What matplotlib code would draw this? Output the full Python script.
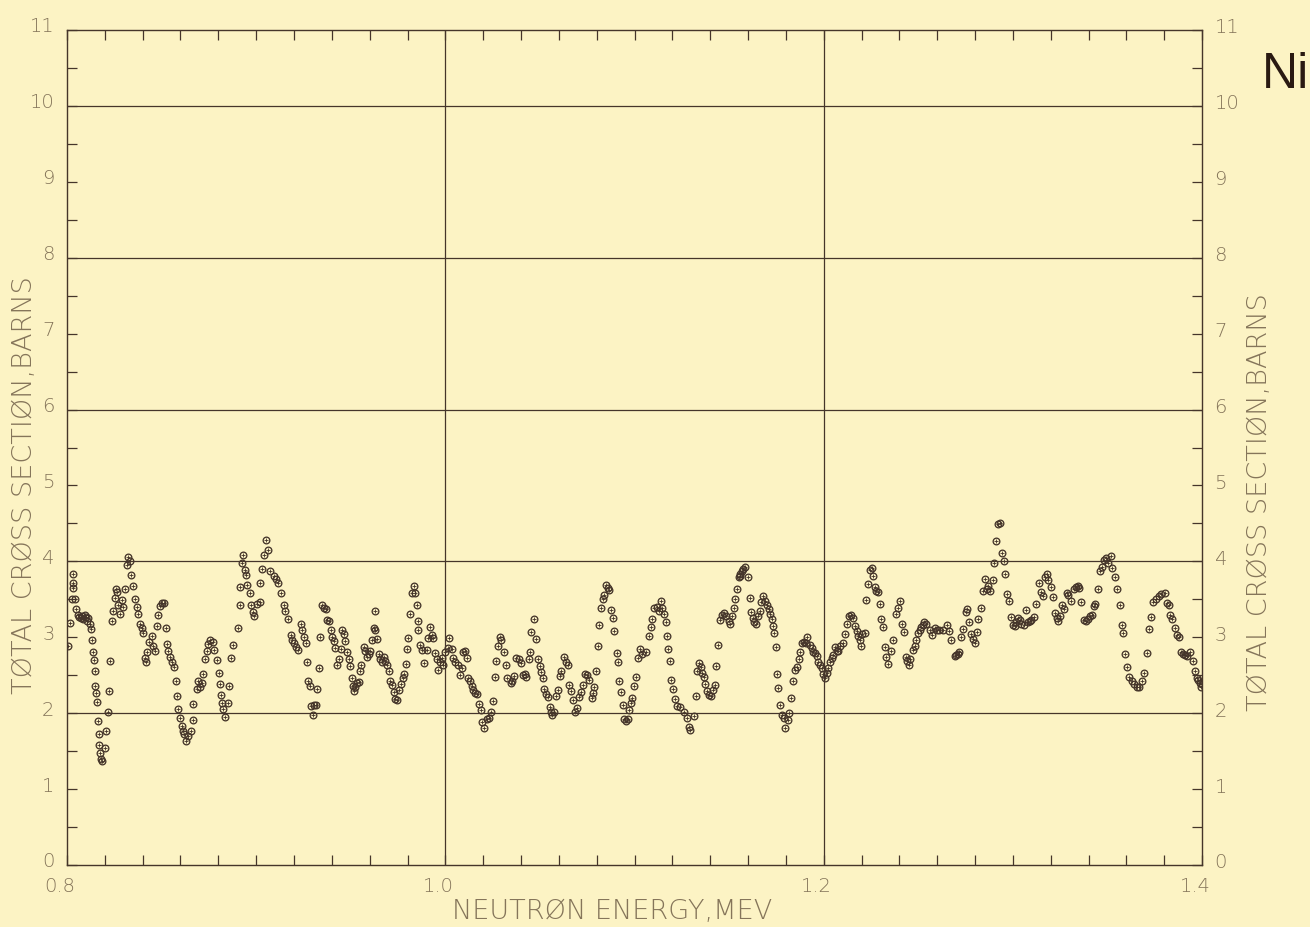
import numpy as np
import matplotlib
matplotlib.use("Agg")
import matplotlib.pyplot as plt
from matplotlib.transforms import ScaledTranslation

# Ni total neutron cross section, 0.80 - 1.40 MeV (energy in MeV, sigma in barns)
energy_a = [0.8007, 0.8016, 0.8025, 0.8030, 0.8032, 0.8034, 0.8042, 0.8048, 0.8060, 0.8066,
            0.8072, 0.8079, 0.8086, 0.8093, 0.8101, 0.8107, 0.8113, 0.8122, 0.8125, 0.8131,
            0.8136, 0.8143, 0.8146, 0.8150, 0.8153, 0.8157, 0.8166, 0.8168, 0.8171, 0.8175,
            0.8180, 0.8185, 0.8201, 0.8206, 0.8219, 0.8224, 0.8228, 0.8240, 0.8245, 0.8254,
            0.8259, 0.8264, 0.8272, 0.8280, 0.8289, 0.8298, 0.8307, 0.8316, 0.8325, 0.8333,
            0.8337, 0.8347, 0.8360, 0.8369, 0.8377, 0.8386, 0.8395, 0.8404, 0.8413, 0.8418,
            0.8425, 0.8436, 0.8448, 0.8457, 0.8466, 0.8474, 0.8483, 0.8492, 0.8501, 0.8513,
            0.8524, 0.8527, 0.8536, 0.8545, 0.8554, 0.8563, 0.8575, 0.8584, 0.8589, 0.8598,
            0.8607, 0.8613, 0.8619, 0.8630, 0.8642, 0.8654, 0.8665, 0.8668, 0.8686, 0.8695,
            0.8704, 0.8713, 0.8721, 0.8730, 0.8739, 0.8748, 0.8757, 0.8771, 0.8778, 0.8792,
            0.8801, 0.8810, 0.8813, 0.8818, 0.8827, 0.8836, 0.8850, 0.8859, 0.8866, 0.8880,
            0.8903, 0.8912, 0.8915, 0.8924, 0.8933, 0.8942, 0.8947, 0.8954, 0.8965, 0.8972,
            0.8982, 0.8991, 0.9004, 0.9018, 0.9021, 0.9030, 0.9042, 0.9053, 0.9060, 0.9074,
            0.9092, 0.9106, 0.9118, 0.9131, 0.9145, 0.9155, 0.9166]
sigma_a = [2.89, 3.19, 3.50, 3.83, 3.72, 3.65, 3.50, 3.37, 3.30, 3.27,
           3.25, 3.28, 3.24, 3.30, 3.27, 3.22, 3.26, 3.18, 3.11, 2.96,
           2.81, 2.70, 2.55, 2.36, 2.27, 2.15, 1.90, 1.72, 1.58, 1.48,
           1.39, 1.37, 1.54, 1.76, 2.02, 2.29, 2.69, 3.22, 3.35, 3.52,
           3.63, 3.60, 3.42, 3.31, 3.49, 3.40, 3.63, 3.95, 4.06, 4.01,
           3.82, 3.68, 3.51, 3.40, 3.31, 3.18, 3.12, 3.06, 2.73, 2.68,
           2.81, 2.94, 3.02, 2.89, 2.82, 3.15, 3.29, 3.41, 3.45, 3.45,
           3.12, 2.91, 2.82, 2.74, 2.67, 2.61, 2.42, 2.23, 2.06, 1.94,
           1.83, 1.76, 1.73, 1.64, 1.70, 1.77, 1.91, 2.12, 2.32, 2.42,
           2.35, 2.40, 2.52, 2.72, 2.82, 2.91, 2.97, 2.94, 2.83, 2.70,
           2.53, 2.38, 2.24, 2.14, 2.06, 1.95, 2.14, 2.36, 2.73, 2.90,
           3.12, 3.43, 3.66, 3.98, 4.09, 3.89, 3.82, 3.69, 3.58, 3.42,
           3.33, 3.28, 3.44, 3.46, 3.71, 3.90, 4.09, 4.28, 4.15, 3.87,
           3.81, 3.77, 3.71, 3.58, 3.43, 3.34, 3.24]

energy_b = [0.9182, 0.9191, 0.9200, 0.9209, 0.9223, 0.9235, 0.9244, 0.9253, 0.9265, 0.9270,
            0.9275, 0.9282, 0.9288, 0.9302, 0.9305, 0.9318, 0.9323, 0.9332, 0.9340, 0.9349,
            0.9358, 0.9367, 0.9375, 0.9384, 0.9393, 0.9402, 0.9411, 0.9419, 0.9428, 0.9437,
            0.9446, 0.9454, 0.9463, 0.9468, 0.9481, 0.9489, 0.9495, 0.9504, 0.9511, 0.9516,
            0.9525, 0.9533, 0.9542, 0.9547, 0.9556, 0.9568, 0.9577, 0.9586, 0.9595, 0.9604,
            0.9612, 0.9621, 0.9626, 0.9630, 0.9639, 0.9647, 0.9656, 0.9665, 0.9674, 0.9682,
            0.9691, 0.9700, 0.9709, 0.9718, 0.9726, 0.9735, 0.9744, 0.9753, 0.9767, 0.9774,
            0.9784, 0.9791, 0.9796, 0.9805, 0.9814, 0.9823, 0.9832, 0.9840, 0.9849, 0.9854,
            0.9858, 0.9867, 0.9875, 0.9889, 0.9902, 0.9911, 0.9919, 0.9928, 0.9937, 0.9946,
            0.9954, 0.9963, 0.9972, 0.9981, 0.9989, 0.9998, 1.0016, 1.0021, 1.0033, 1.0042,
            1.0051, 1.0068, 1.0077, 1.0086, 1.0095, 1.0104, 1.0112, 1.0121, 1.0130, 1.0139,
            1.0147, 1.0156, 1.0170, 1.0179, 1.0188, 1.0196, 1.0205, 1.0218, 1.0230, 1.0240,
            1.0253, 1.0261, 1.0270, 1.0279, 1.0288, 1.0296, 1.0311, 1.0323, 1.0328]
sigma_b = [3.03, 2.96, 2.92, 2.87, 2.83, 3.18, 3.09, 3.01, 2.93, 2.67,
           2.42, 2.36, 2.10, 1.98, 2.11, 2.11, 2.32, 2.59, 3.01, 3.43,
           3.38, 3.37, 3.23, 3.21, 3.10, 3.01, 2.95, 2.86, 2.64, 2.71,
           2.84, 3.10, 3.04, 2.95, 2.80, 2.72, 2.62, 2.47, 2.36, 2.29,
           2.34, 2.40, 2.41, 2.56, 2.63, 2.87, 2.82, 2.74, 2.78, 2.82,
           2.96, 3.12, 3.34, 3.09, 2.98, 2.78, 2.71, 2.67, 2.74, 2.69,
           2.63, 2.56, 2.43, 2.37, 2.28, 2.19, 2.17, 2.30, 2.38, 2.46,
           2.52, 2.65, 2.85, 2.99, 3.31, 3.58, 3.67, 3.58, 3.42, 3.21,
           3.10, 2.90, 2.83, 2.66, 2.83, 2.99, 3.14, 3.03, 2.99, 2.79,
           2.72, 2.57, 2.68, 2.73, 2.64, 2.81, 2.86, 2.99, 2.84, 2.73,
           2.68, 2.64, 2.50, 2.60, 2.80, 2.82, 2.73, 2.47, 2.42, 2.36,
           2.31, 2.27, 2.25, 2.12, 2.04, 1.88, 1.80, 1.92, 1.94, 2.01,
           2.16, 2.48, 2.69, 2.88, 3.00, 2.96, 2.80, 2.63, 2.47]

energy_c = [1.0346, 1.0352, 1.0363, 1.0375, 1.0388, 1.0398, 1.0413, 1.0419, 1.0425, 1.0440,
            1.0447, 1.0454, 1.0468, 1.0481, 1.0489, 1.0498, 1.0507, 1.0516, 1.0521, 1.0533,
            1.0542, 1.0551, 1.0560, 1.0565, 1.0577, 1.0586, 1.0595, 1.0604, 1.0612, 1.0626,
            1.0639, 1.0647, 1.0656, 1.0665, 1.0674, 1.0686, 1.0697, 1.0709, 1.0718, 1.0726,
            1.0739, 1.0749, 1.0761, 1.0774, 1.0779, 1.0788, 1.0796, 1.0805, 1.0814, 1.0823,
            1.0832, 1.0840, 1.0849, 1.0858, 1.0867, 1.0875, 1.0884, 1.0893, 1.0905, 1.0911,
            1.0919, 1.0928, 1.0937, 1.0946, 1.0954, 1.0967, 1.0972, 1.0981, 1.0989, 1.0998,
            1.1007, 1.1016, 1.1030, 1.1042, 1.1060, 1.1077, 1.1086, 1.1095, 1.1104, 1.1118,
            1.1130, 1.1139, 1.1147, 1.1156, 1.1165, 1.1174, 1.1177, 1.1188, 1.1195, 1.1205,
            1.1212, 1.1226, 1.1240, 1.1261, 1.1275, 1.1288, 1.1293, 1.1314, 1.1323, 1.1332,
            1.1340, 1.1349, 1.1358, 1.1367, 1.1375, 1.1384, 1.1393, 1.1402, 1.1416, 1.1423,
            1.1433, 1.1440, 1.1451, 1.1463, 1.1475, 1.1486]
sigma_c = [2.40, 2.42, 2.49, 2.73, 2.71, 2.66, 2.50, 2.51, 2.48, 2.71,
           2.80, 3.07, 3.24, 2.98, 2.71, 2.62, 2.54, 2.47, 2.32, 2.25,
           2.21, 2.08, 2.02, 1.97, 2.02, 2.23, 2.30, 2.49, 2.55, 2.74,
           2.68, 2.63, 2.37, 2.29, 2.17, 2.02, 2.07, 2.21, 2.28, 2.37,
           2.52, 2.50, 2.44, 2.20, 2.26, 2.35, 2.56, 2.89, 3.16, 3.38,
           3.51, 3.56, 3.69, 3.65, 3.62, 3.36, 3.25, 3.08, 2.79, 2.67,
           2.43, 2.28, 2.11, 1.92, 1.90, 1.92, 2.04, 2.14, 2.20, 2.36,
           2.48, 2.73, 2.84, 2.78, 2.80, 3.02, 3.13, 3.24, 3.39, 3.40,
           3.35, 3.48, 3.39, 3.31, 3.20, 3.02, 2.85, 2.69, 2.44, 2.32,
           2.19, 2.10, 2.08, 2.02, 1.94, 1.82, 1.78, 1.96, 2.22, 2.55,
           2.66, 2.61, 2.53, 2.48, 2.38, 2.29, 2.24, 2.22, 2.31, 2.37,
           2.62, 2.90, 3.23, 3.30, 3.32, 3.28]

energy_d = [1.1498, 1.1507, 1.1516, 1.1525, 1.1533, 1.1542, 1.1551, 1.1556, 1.1560, 1.1567,
            1.1574, 1.1586, 1.1598, 1.1609, 1.1616, 1.1626, 1.1633, 1.1644, 1.1651, 1.1661,
            1.1668, 1.1679, 1.1691, 1.1700, 1.1709, 1.1718, 1.1726, 1.1732, 1.1739, 1.1749,
            1.1753, 1.1761, 1.1770, 1.1779, 1.1788, 1.1796, 1.1809, 1.1819, 1.1826, 1.1837,
            1.1849, 1.1858, 1.1867, 1.1875, 1.1884, 1.1896, 1.1907, 1.1914, 1.1928, 1.1937,
            1.1946, 1.1954, 1.1963, 1.1972, 1.1981, 1.1989, 1.1998, 1.2007, 1.2016, 1.2025,
            1.2033, 1.2042, 1.2051, 1.2060, 1.2068, 1.2077, 1.2086, 1.2100, 1.2112, 1.2125,
            1.2135, 1.2142, 1.2153, 1.2165, 1.2174, 1.2182, 1.2191, 1.2195, 1.2205, 1.2218,
            1.2226, 1.2235, 1.2244, 1.2253, 1.2261, 1.2270, 1.2279, 1.2288, 1.2296, 1.2305,
            1.2314, 1.2323, 1.2332, 1.2340, 1.2358, 1.2367, 1.2381, 1.2393, 1.2402, 1.2416,
            1.2423, 1.2433, 1.2440, 1.2451, 1.2458, 1.2472, 1.2481, 1.2489, 1.2498, 1.2507,
            1.2516, 1.2525, 1.2533, 1.2542, 1.2560, 1.2574, 1.2586, 1.2598, 1.2612, 1.2630]
sigma_d = [3.21, 3.17, 3.28, 3.39, 3.50, 3.64, 3.79, 3.81, 3.83, 3.87,
           3.90, 3.93, 3.79, 3.52, 3.33, 3.26, 3.20, 3.18, 3.28, 3.35,
           3.46, 3.55, 3.48, 3.43, 3.37, 3.31, 3.24, 3.15, 3.05, 2.87,
           2.52, 2.33, 2.11, 1.98, 1.93, 1.81, 1.91, 2.00, 2.20, 2.42,
           2.57, 2.61, 2.72, 2.81, 2.92, 2.94, 2.92, 3.01, 2.90, 2.86,
           2.81, 2.79, 2.75, 2.68, 2.64, 2.59, 2.52, 2.47, 2.53, 2.59,
           2.68, 2.73, 2.77, 2.87, 2.82, 2.82, 2.88, 2.93, 3.04, 3.17,
           3.28, 3.30, 3.26, 3.15, 3.08, 3.02, 2.97, 2.88, 3.04, 3.06,
           3.49, 3.70, 3.89, 3.91, 3.81, 3.66, 3.61, 3.59, 3.44, 3.24,
           3.13, 2.87, 2.74, 2.65, 2.82, 2.96, 3.31, 3.39, 3.48, 3.18,
           3.07, 2.74, 2.69, 2.63, 2.72, 2.83, 2.89, 2.97, 3.05, 3.10,
           3.14, 3.16, 3.20, 3.18, 3.09, 3.03, 3.12, 3.10, 3.09, 3.09]

energy_e = [1.2652, 1.2661, 1.2674, 1.2692, 1.2702, 1.2708, 1.2715, 1.2727, 1.2738, 1.2750,
            1.2759, 1.2768, 1.2781, 1.2791, 1.2799, 1.2809, 1.2818, 1.2831, 1.2840, 1.2852,
            1.2863, 1.2870, 1.2881, 1.2893, 1.2902, 1.2911, 1.2923, 1.2934, 1.2943, 1.2955,
            1.2961, 1.2970, 1.2982, 1.2991, 1.3000, 1.3009, 1.3018, 1.3027, 1.3036, 1.3045,
            1.3059, 1.3071, 1.3080, 1.3089, 1.3098, 1.3112, 1.3125, 1.3137, 1.3148, 1.3160,
            1.3169, 1.3178, 1.3187, 1.3201, 1.3214, 1.3223, 1.3232, 1.3241, 1.3250, 1.3262,
            1.3273, 1.3285, 1.3294, 1.3308, 1.3321, 1.3333, 1.3344, 1.3351, 1.3362, 1.3374,
            1.3387, 1.3398, 1.3410, 1.3419, 1.3428, 1.3437, 1.3451, 1.3463, 1.3472, 1.3481,
            1.3494, 1.3504, 1.3517, 1.3526, 1.3538, 1.3552, 1.3565, 1.3576, 1.3583, 1.3594,
            1.3606, 1.3615, 1.3629, 1.3642, 1.3655, 1.3668, 1.3683, 1.3695, 1.3708, 1.3718,
            1.3731, 1.3743, 1.3758, 1.3772, 1.3784, 1.3802, 1.3815, 1.3825, 1.3832, 1.3843,
            1.3856, 1.3868, 1.3879, 1.3891, 1.3900, 1.3909, 1.3922, 1.3939, 1.3950, 1.3963,
            1.3971, 1.3980, 1.3989, 1.3993, 1.3998]
sigma_e = [3.16, 3.08, 2.97, 2.75, 2.77, 2.78, 2.80, 3.00, 3.11, 3.33,
           3.37, 3.20, 3.04, 2.98, 2.92, 3.07, 3.24, 3.39, 3.61, 3.77,
           3.63, 3.68, 3.61, 3.76, 3.98, 4.27, 4.49, 4.50, 4.11, 4.00,
           3.84, 3.57, 3.48, 3.27, 3.16, 3.15, 3.20, 3.26, 3.23, 3.17,
           3.16, 3.36, 3.20, 3.21, 3.23, 3.27, 3.44, 3.71, 3.59, 3.55,
           3.79, 3.83, 3.75, 3.66, 3.53, 3.32, 3.26, 3.21, 3.28, 3.42,
           3.37, 3.58, 3.56, 3.48, 3.64, 3.66, 3.67, 3.65, 3.46, 3.23,
           3.22, 3.24, 3.28, 3.30, 3.41, 3.44, 3.63, 3.87, 3.93, 4.02,
           4.04, 3.98, 4.07, 3.91, 3.80, 3.64, 3.43, 3.16, 3.05, 2.78,
           2.61, 2.48, 2.42, 2.38, 2.35, 2.34, 2.42, 2.53, 2.79, 3.11,
           3.27, 3.47, 3.51, 3.54, 3.57, 3.58, 3.45, 3.42, 3.30, 3.24,
           3.12, 3.03, 3.00, 2.81, 2.78, 2.76, 2.75, 2.81, 2.69, 2.56,
           2.47, 2.44, 2.40, 2.34, 2.39]

energy = np.concatenate([energy_a, energy_b, energy_c, energy_d, energy_e])
sigma = np.concatenate([sigma_a, sigma_b, sigma_c, sigma_d, sigma_e])

x_labels = ["0.8", "1.0", "1.2", "1.4"]
x_label_pos = [0.8, 1.0, 1.2, 1.4]
y_label_pos = list(range(0, 12))

PAPER = "#fcf3c4"
INK = "#45352a"
PENCIL = "#85755a"

fig = plt.figure(figsize=(13.1, 9.28), dpi=100)
fig.patch.set_facecolor(PAPER)
ax = fig.add_axes([67 / 1310, 1 - 866 / 928, 1135 / 1310, 835 / 928])
ax.set_facecolor(PAPER)
ax.set_xlim(0.8, 1.4)
ax.set_ylim(0, 11)

# reference grid
for v in (2, 4, 6, 8, 10):
    ax.axhline(v, color=INK, lw=0.9, zorder=1)
for e in (1.0, 1.2):
    ax.axvline(e, color=INK, lw=0.9, zorder=1)

# measured points
ax.plot(energy, sigma, "o", mfc="none", mec=INK, ms=4.8, mew=0.95, zorder=3)
ax.plot(energy, sigma, "+", color=INK, ms=2.6, mew=0.6, zorder=3)

for sp in ax.spines.values():
    sp.set_color(INK)
    sp.set_linewidth(1.0)

ax.set_xticks(x_label_pos)
ax.set_xticklabels(x_labels)
ax.set_xticks(np.arange(0.82, 1.40, 0.02), minor=True)
ax.set_yticks(y_label_pos)
ax.set_yticks(np.arange(0.5, 11, 1.0), minor=True)
ax.tick_params(which="both", direction="in", length=7, width=0.9, color=INK,
               top=True, right=True, labelright=True)
ax.tick_params(axis="both", which="major", labelsize=14, labelcolor=PENCIL)
ax.tick_params(axis="y", which="major", pad=9)
ax.tick_params(axis="x", which="major", pad=8)

for t in ax.yaxis.get_major_ticks():
    t.label1.set_fontweight("ultralight")
    t.label1.set_transform(t.label1.get_transform() + ScaledTranslation(0, 0.06, fig.dpi_scale_trans))
    t.label2.set_fontweight("ultralight")
    t.label2.set_transform(t.label2.get_transform() + ScaledTranslation(0, 0.05, fig.dpi_scale_trans))
for t in ax.xaxis.get_major_ticks():
    t.label1.set_fontweight("ultralight")
    t.label1.set_transform(t.label1.get_transform() + ScaledTranslation(-0.07, 0, fig.dpi_scale_trans))

label_kw = dict(fontsize=19.5, color=PENCIL, fontweight="ultralight")
fig.text(25 / 1310, 1 - 485 / 928, "TØTAL CRØSS SECTIØN,BARNS", rotation=90,
         ha="center", va="center", **label_kw)
fig.text(1259 / 1310, 1 - 502 / 928, "TØTAL CRØSS SECTIØN,BARNS", rotation=90,
         ha="center", va="center", **label_kw)
fig.text(612 / 1310, 1 - 912 / 928, "NEUTRØN ENERGY,MEV", ha="center", va="center",
         **label_kw)

fig.text(1286 / 1310, 1 - 75 / 928, "Ni", ha="center", va="center", fontsize=36,
         color="#2a1a12", family=["Liberation Sans Narrow", "Liberation Sans", "DejaVu Sans"])

fig.savefig("out.png", dpi=100, facecolor=PAPER)
